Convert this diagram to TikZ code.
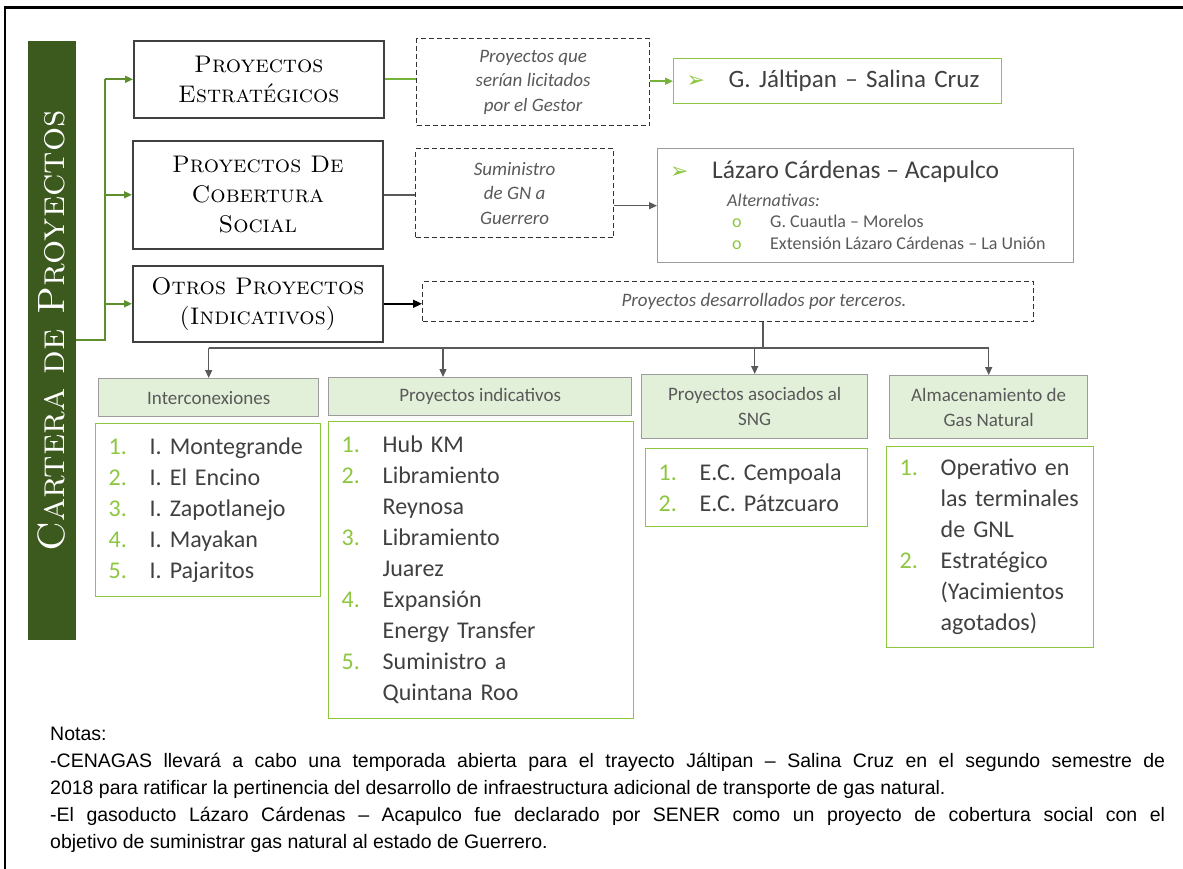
\documentclass[tikz,border=0pt]{standalone}
\usepackage{fontspec}
\newfontfamily\carfont{Carlito}
\newfontfamily\notefont{Liberation Sans}
\newfontfamily\dingfont{DejaVu Sans}
\usepackage{tikz}
\usetikzlibrary{arrows.meta,positioning,calc}
\definecolor{bargreen}{HTML}{3D5A1E}
\definecolor{linkgreen}{HTML}{5E8F2C}
\definecolor{litegreen}{HTML}{8DC63F}
\definecolor{midgreen}{HTML}{76B33A}
\definecolor{headfill}{HTML}{E2EFD9}
\definecolor{headdraw}{HTML}{9C9C9C}
\definecolor{inkgray}{HTML}{404040}
\definecolor{softgray}{HTML}{595959}
\newcommand\bul{\textcolor{litegreen}{\dingfont\fontsize{22}{22}\selectfont ➢}}
\newcommand\nm[1]{\makebox[41pt][l]{\textcolor{litegreen}{#1}}}
\newcommand\subit{\makebox[38pt][l]{\textcolor{litegreen}{o}}}
\tikzset{
  catbox/.style={draw=inkgray, line width=1.6pt, fill=white, anchor=north west,
    inner sep=0pt, align=center, font=\fontsize{24}{30}\selectfont\scshape, text=black},
  hint/.style={draw=black!80, dash pattern=on 5pt off 3pt, line width=1.2pt,
    anchor=north west, inner sep=0pt, align=center,
    font=\carfont\itshape\fontsize{19}{24.5}\selectfont, text=softgray},
  pick/.style={draw, line width=1.4pt, anchor=north west, inner sep=0pt},
  group/.style={draw=headdraw, fill=headfill, line width=1.4pt, anchor=north west,
    inner sep=0pt, align=center, font=\carfont\fontsize{19}{25}\selectfont, text=softgray},
  items/.style={draw=litegreen, line width=1.4pt, anchor=north west, inner xsep=13pt,
    inner ysep=0pt, align=left, font=\carfont\fontsize{24}{31}\selectfont, text=inkgray},
  tie/.style={line width=1.5pt},
  feed/.style={-{Triangle[length=8pt,width=7pt]}, line width=1.6pt, color=linkgreen},
  drop/.style={-{Triangle[length=8pt,width=7pt]}, line width=1.4pt, color=softgray},
  push/.style={-{Triangle[length=9pt,width=8pt]}, line width=1.6pt, color=black},
}

\begin{document}
\begin{tikzpicture}[x=1pt,y=-1pt]
  \useasboundingbox (0,0) rectangle (1183,869);
  % frame, cut at the right and the bottom
  \draw[line width=2.4pt] (5,869) -- (5,7.5) -- (1183,7.5);
  % title bar
  \node[fill=bargreen, minimum width=48pt, minimum height=599pt, anchor=north west, inner sep=0pt] (bar) at (28,41) {};
  \node[rotate=90, text=white, font=\fontsize{38}{38}\selectfont\scshape] (bartx) at (52,331) {Cartera de Proyectos};

  % the three families
  \node[catbox, minimum width=250pt, minimum height=77pt] (estr) at (133,40) {Proyectos\\Estratégicos};
  \node[catbox, minimum width=250pt, minimum height=108pt] (cob) at (132,140) {Proyectos De\\Cobertura\\Social};
  \node[catbox, minimum width=250pt, minimum height=76pt] (otros) at (132,265) {Otros Proyectos\\(Indicativos)};

  % dashed remarks
  \node[hint, minimum width=233pt, minimum height=87pt] (licit) at (416,38) {Proyectos que\\serían licitados\\por el Gestor};
  \node[hint, minimum width=198pt, minimum height=89pt] (sumin) at (415,148) {Suministro\\de GN a\\Guerrero};
  \node[hint, minimum width=611pt, minimum height=40pt] (terc) at (422,281) {};
  \node[font=\carfont\itshape\fontsize{19}{24}\selectfont, text=softgray, inner sep=0pt] (tercx) at (764,301) {Proyectos desarrollados por terceros.};

  % pipelines
  \node[pick, draw=litegreen, minimum width=328pt, minimum height=45pt, text width=302pt, inner xsep=13pt,
    align=left, font=\carfont\fontsize{25}{30}\selectfont, text=inkgray] (jalt) at (673,58)
    {\makebox[42pt][l]{\bul}G. Jáltipan – Salina Cruz};
  \node[pick, draw=headdraw, minimum width=416pt, minimum height=114pt] (lzc) at (657,148) {};
  \node[anchor=west, inner sep=0pt, font=\carfont\fontsize{25.5}{30}\selectfont, text=inkgray] (lzcx) at (670,172)
    {\makebox[42pt][l]{\bul}Lázaro Cárdenas – Acapulco};
  \node[anchor=west, inner sep=0pt, font=\carfont\itshape\fontsize{18}{22}\selectfont, text=softgray] (altx) at (727,200) {Alternativas:};
  \node[anchor=north west, inner sep=0pt, align=left, font=\carfont\fontsize{18}{22}\selectfont, text=softgray] (alts) at (732,215)
    {\subit G. Cuautla – Morelos\\\subit Extensión Lázaro Cárdenas – La Unión};

  % groups of other projects
  \node[group, minimum width=220pt, minimum height=38pt] (g1) at (98,378) {Interconexiones};
  \node[group, minimum width=303pt, minimum height=38pt] (g2) at (328,377) {Proyectos indicativos};
  \node[group, minimum width=226pt, minimum height=64pt] (g3) at (641,374) {Proyectos asociados al\\SNG};
  \node[group, minimum width=198pt, minimum height=63pt] (g4) at (889,375) {Almacenamiento de\\Gas Natural};

  \node[items, text width=199pt, minimum height=173pt] (l1) at (95,423)
    {\nm{1.}I. Montegrande\\\nm{2.}I. El Encino\\\nm{3.}I. Zapotlanejo\\\nm{4.}I. Mayakan\\\nm{5.}I. Pajaritos};
  \node[items, text width=279pt, minimum height=297pt] (l2) at (328,421)
    {\nm{1.}Hub KM\\\nm{2.}Libramiento\\\nm{}Reynosa\\\nm{3.}Libramiento\\\nm{}Juarez\\\nm{4.}Expansión\\\nm{}Energy Transfer\\\nm{5.}Suministro a\\\nm{}Quintana Roo};
  \node[items, text width=196pt, minimum height=78pt] (l3) at (645,448)
    {\nm{1.}E.C. Cempoala\\\nm{2.}E.C. Pátzcuaro};
  \node[items, text width=181pt, minimum height=201pt] (l4) at (886,446)
    {\nm{1.}Operativo en\\\nm{}las terminales\\\nm{}de GNL\\\nm{2.}Estratégico\\\nm{}(Yacimientos\\\nm{}agotados)};

  % connectors
  \coordinate (fork) at (105,340);
  \draw[tie, linkgreen] (bar.east |- fork) -- (fork) -- (fork |- estr.west);
  \foreach \n in {estr,cob,otros}
    \draw[feed] (fork |- \n.west) -- (\n.west);
  \draw[tie, midgreen, line width=2pt] (estr.east) -- (estr.east -| licit.west);
  \draw[feed, midgreen] (licit.east |- jalt.west) -- (jalt.west);
  \draw[tie, softgray] (cob.east) -- (cob.east -| sumin.west);
  \draw[drop] (sumin.east |- lzc.west) -- (lzc.west);
  \draw[push] (otros.east) -- (otros.east -| terc.west);
  \coordinate (bus) at (763,348);
  \coordinate (g2top) at ([xshift=115pt]g2.north west);
  \draw[tie, softgray] (terc.south -| bus) -- (bus);
  \draw[tie, softgray] (g1.north |- bus) -- (g4.north |- bus);
  \draw[drop] (g1.north |- bus) -- (g1.north);
  \draw[drop] (g2top |- bus) -- (g2top);
  \draw[drop] (g3.north |- bus) -- (g3.north);
  \draw[drop] (g4.north |- bus) -- (g4.north);

  % notes
  \node[anchor=north west, inner sep=0pt, text width=1115pt, align=justify,
    font=\notefont\fontsize{19.5}{27}\selectfont] (notas) at (50,727)
    {\tolerance=10000\relax\hbadness=10000\relax
     Notas:\\
     -CENAGAS llevará a cabo una temporada abierta para el trayecto Jáltipan – Salina Cruz en el segundo semestre de\linebreak
     2018 para ratificar la pertinencia del desarrollo de infraestructura adicional de transporte de gas natural.\\
     -El gasoducto Lázaro Cárdenas – Acapulco fue declarado por SENER como un proyecto de cobertura social con el\linebreak
     objetivo de suministrar gas natural al estado de Guerrero.};
\end{tikzpicture}
\end{document}
